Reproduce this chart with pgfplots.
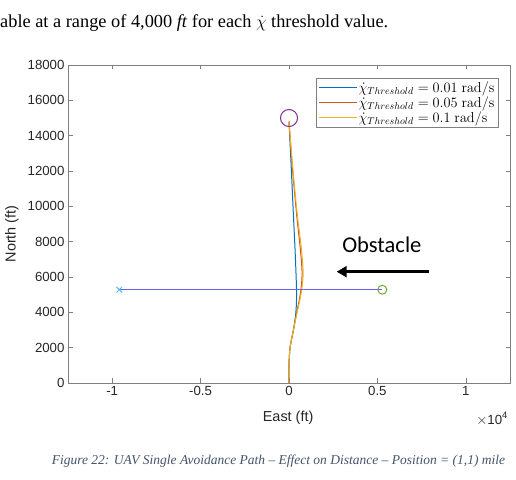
\documentclass[border=0pt]{standalone}
\usepackage[no-math]{fontspec}
\setmainfont{Liberation Sans}
\newfontfamily\serif{Liberation Serif}
\newfontfamily\calibri{Carlito}
\usepackage{pgfplots}
\pgfplotsset{compat=1.18}
\usetikzlibrary{arrows.meta}
\definecolor{mblue}{rgb}{0,0.447,0.741}
\definecolor{morange}{rgb}{0.85,0.325,0.098}
\definecolor{myellow}{rgb}{0.929,0.694,0.125}
\definecolor{mpurple}{rgb}{0.494,0.184,0.556}
\definecolor{mgreen}{rgb}{0.466,0.674,0.188}
\definecolor{mcyan}{rgb}{0.301,0.745,0.933}
\definecolor{obsline}{RGB}{100,100,245}
\definecolor{capcol}{RGB}{68,84,106}
\definecolor{axcol}{gray}{0.5}
\definecolor{txtcol}{gray}{0.15}
\begin{document}
\begin{tikzpicture}
\path[use as bounding box, fill=white] (0bp,0bp) rectangle (516bp,480bp);
\node[anchor=west, font=\serif\fontsize{18.4}{21}\selectfont, inner sep=0pt] at (0bp,457bp) {able at a range of 4,000 \textit{ft} for each $\dot{\chi}$ threshold value.};
\begin{axis}[
  at={(68bp,97bp)}, anchor=south west,
  scale only axis, width=442bp, height=318bp,
  xmin=-12500, xmax=12500, ymin=0, ymax=18000,
  xtick={-10000,-5000,0,5000,10000},
  xticklabels={-1,-0.5,0,0.5,1},
  ytick={0,2000,...,18000},
  /pgf/number format/1000 sep={},
  /pgf/number format/assume math mode=true,
  scaled x ticks=false, scaled y ticks=false,
  tick align=inside,
  major tick length=4.5bp,
  axis line style={axcol},
  every tick/.style={axcol},
  tick label style={font=\fontsize{13.3}{15}\selectfont, text=txtcol},
  xlabel={East (ft)}, ylabel={North (ft)},
  label style={font=\fontsize{14.5}{17}\selectfont, text=txtcol},
  xlabel style={at={(axis description cs:0.498,-0.110)}, anchor=center},
  ylabel style={at={(axis description cs:-0.127,0.469)}, anchor=center},
  legend style={at={(0.973,0.959)}, anchor=north east, draw=axcol, fill=white,
    font=\fontsize{14}{15}\selectfont, inner sep=3bp, row sep=1.5bp,
    nodes={inner sep=0.5bp}},
  legend cell align=left,
  legend image code/.code={\draw[#1, line width=1.2bp] (0bp,0bp) -- (38bp,0bp);},
]
\addplot[color=mblue, line width=1bp, smooth] coordinates {
(0,0) (0,1000) (60,2000) (250,3000) (390,4000) (430,5000) (400,6100) (340,7600) (245,9600) (115,12450) (0,14800)};
\addlegendentry{$\dot{\chi}_{Threshold} = 0.01\ \mathrm{rad/s}$}
\addplot[color=morange, line width=1bp, smooth] coordinates {
(0,0) (0,1000) (60,2000) (250,3000) (440,4000) (650,5100) (740,6200) (630,7700) (425,9600) (170,12450) (0,14800)};
\addlegendentry{$\dot{\chi}_{Threshold} = 0.05\ \mathrm{rad/s}$}
\addplot[color=myellow, line width=1bp, smooth] coordinates {
(0,0) (0,1000) (60,2000) (250,3000) (460,4000) (690,5100) (800,6200) (690,7700) (460,9600) (190,12450) (0,14800)};
\addlegendentry{$\dot{\chi}_{Threshold} = 0.1\ \mathrm{rad/s}$}
\addplot[color=obsline, line width=1.2bp, forget plot] coordinates {(-9600,5280) (5280,5280)};
\addplot[only marks, mark=x, mark size=4bp, color=mcyan, line width=1bp, forget plot] coordinates {(-9600,5280)};
\addplot[only marks, mark=o, mark size=4.5bp, color=mgreen, line width=1bp, forget plot] coordinates {(5280,5280)};
\addplot[only marks, mark=o, mark size=8.5bp, color=mpurple, line width=1bp, forget plot] coordinates {(0,15000)};
\node[font=\calibri\fontsize{22.6}{26}\selectfont] at (axis cs:5250,7850) {Obstacle};
\draw[line width=3bp, -{Triangle[length=10bp,width=11bp]}] (axis cs:7900,6300) -- (axis cs:2700,6300);
\end{axis}
\node[anchor=east, font=\fontsize{13.3}{15}\selectfont, text=txtcol, inner sep=0pt] at (508bp,61bp) {$\times$10\textsuperscript{4}};
\node[font=\serif\itshape\fontsize{13.55}{16}\selectfont, text=capcol, inner sep=0pt] at (278.5bp,19bp) {Figure 22: UAV Single Avoidance Path – Effect on Distance – Position = (1,1) mile};
\end{tikzpicture}
\end{document}
